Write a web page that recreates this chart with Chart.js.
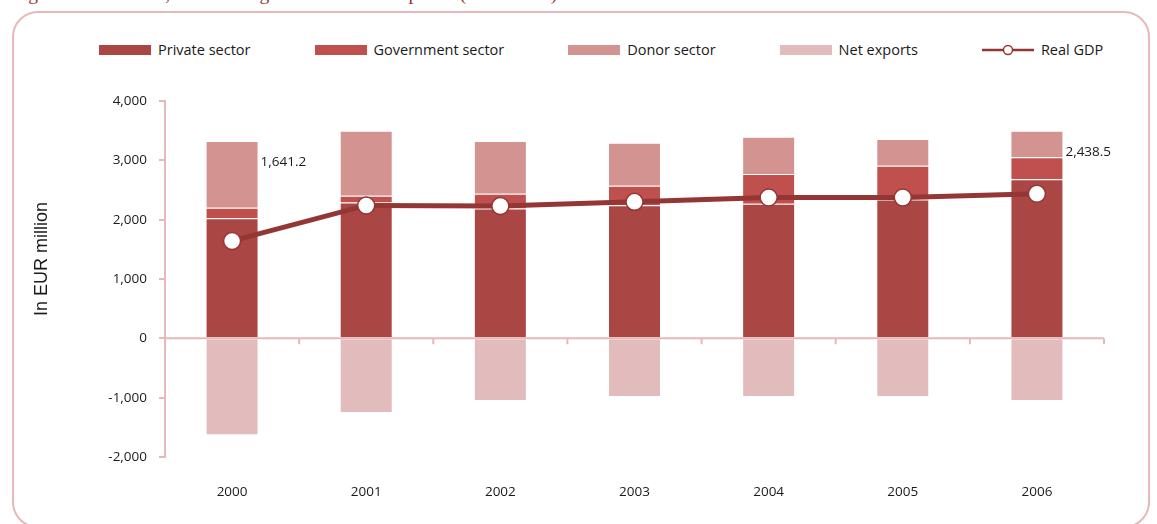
<!DOCTYPE html>
<html>
<head>
<meta charset="utf-8">
<script src="https://cdn.jsdelivr.net/npm/chart.js@4.4.1/dist/chart.umd.min.js"></script>
<style>
  html, body { margin: 0; padding: 0; background: #fff; }
  body { width: 1157px; height: 524px; position: relative; overflow: hidden; }
  .caption {
    position: absolute; left: 27px; top: -17px; width: 720px;
    overflow: hidden; white-space: nowrap; text-indent: -15px;
    font: 19.5px "Liberation Serif", serif; color: #953735;
  }
  .frame {
    position: absolute; left: 12px; top: 11px; width: 1138px; height: 517px;
    border: 2px solid #e6b9b8; border-radius: 26px; box-sizing: border-box;
  }
  #legend {
    position: absolute; left: 99px; top: 40px; display: flex; gap: 64px;
    font: 14.5px "Open Sans", sans-serif; color: #1a1a1a; line-height: 20px;
  }
  #legend .item { display: flex; align-items: center; gap: 7px; white-space: nowrap; }
  #legend .box { display: inline-block; width: 52px; height: 10px; }
  canvas { position: absolute; left: 0; top: 0; }
</style>
</head>
<body>
<div class="caption">Figure 4: Real GDP, sources of growth at constant prices (2000-2006)</div>
<div class="frame"></div>
<div id="legend"></div>
<canvas id="gdpChart" width="1157" height="524"></canvas>
<script>
const years = ['2000', '2001', '2002', '2003', '2004', '2005', '2006'];
const privateSector = [2025, 2290, 2190, 2245, 2270, 2340, 2680];
const governmentSector = [175, 112, 246, 326, 498, 568, 370];
const donorSector = [1125, 1098, 889, 726, 629, 451, 449];
const netExports = [-1632, -1260, -1058, -990, -990, -990, -1058];
const realGdp = [1641.2, 2240, 2230, 2300, 2375, 2372, 2438.5];
const gdpLabelled = [0, 6]; // years that carry a value label
const yTicks = [-2000, -1000, 0, 1000, 2000, 3000, 4000];

const axisPink = '#e6b9b8';
const textColor = '#1a1a1a';
const lineRed = '#943634';

function bar(label, data, color) {
    return {
        type: 'bar', label: label, data: data, backgroundColor: color,
        borderColor: 'rgba(255,255,255,0.55)', borderWidth: 1,
        categoryPercentage: 1, barPercentage: 0.395, stack: 'gdp', order: 2
    };
}

// zero line with category tick marks, the rotated y title, and value labels
const extras = {
    id: 'extras',
    beforeDatasetsDraw(chart) {
        const {ctx, chartArea} = chart;
        const x = chart.scales.x, y = chart.scales.y;
        const y0 = y.getPixelForValue(0);
        ctx.save();
        ctx.strokeStyle = axisPink;
        ctx.lineWidth = 2;
        ctx.beginPath();
        ctx.moveTo(chartArea.left, y0);
        ctx.lineTo(chartArea.right, y0);
        for (let i = 1; i <= years.length; i++) {
            const bx = i === years.length ? chartArea.right
                : (x.getPixelForValue(i - 1) + x.getPixelForValue(i)) / 2;
            ctx.moveTo(bx, y0);
            ctx.lineTo(bx, y0 + 6);
        }
        ctx.stroke();
        ctx.restore();
    },
    afterDraw(chart) {
        const ctx = chart.ctx;
        ctx.save();
        ctx.fillStyle = textColor;
        ctx.font = '18px "Liberation Sans", Arial, sans-serif';
        ctx.textAlign = 'center';
        ctx.textBaseline = 'middle';
        ctx.translate(42, 259);
        ctx.rotate(-Math.PI / 2);
        ctx.fillText('In EUR million', 0, 0);
        ctx.restore();

        const donorBars = chart.getDatasetMeta(2).data;
        ctx.save();
        ctx.fillStyle = textColor;
        ctx.font = '13.5px "Open Sans", sans-serif';
        ctx.textAlign = 'left';
        ctx.textBaseline = 'middle';
        gdpLabelled.forEach(i => {
            const el = donorBars[i];
            const txt = realGdp[i].toLocaleString('en-US', {minimumFractionDigits: 1, maximumFractionDigits: 1});
            ctx.fillText(txt, el.x + el.width / 2 + 2, el.y + 21);
        });
        ctx.restore();
    }
};

const chart = new Chart(document.getElementById('gdpChart'), {
    data: {
        labels: years,
        datasets: [
            bar('Private sector', privateSector, '#aa4643'),
            bar('Government sector', governmentSector, '#c0504d'),
            bar('Donor sector', donorSector, '#d39391'),
            bar('Net exports', netExports, '#e2bcbc'),
            {
                type: 'line', label: 'Real GDP', data: realGdp, stack: 'line', order: 1,
                borderColor: lineRed, borderWidth: 5, tension: 0,
                pointRadius: 8.5, pointBorderWidth: 1.5,
                pointBackgroundColor: '#fff', pointBorderColor: lineRed
            }
        ]
    },
    options: {
        responsive: false,
        devicePixelRatio: 1,
        animation: false,
        layout: { padding: { top: 101, right: 53, bottom: 0, left: 0 } },
        plugins: { legend: { display: false }, tooltip: { enabled: false } },
        scales: {
            x: {
                stacked: true,
                afterFit(scale) { scale.height = 67; },
                grid: { display: false, drawTicks: false },
                border: { display: false },
                ticks: { padding: 27, color: textColor, font: { family: 'Open Sans', size: 13.5 } }
            },
            y: {
                stacked: true, min: -2000, max: 4000,
                afterBuildTicks(scale) { scale.ticks = yTicks.map(v => ({ value: v })); },
                afterFit(scale) { scale.width = 165; },
                ticks: {
                    padding: 12, color: textColor, font: { family: 'Open Sans', size: 13.5 },
                    callback: v => v.toLocaleString('en-US')
                },
                grid: { drawOnChartArea: false, color: axisPink, lineWidth: 2, tickLength: 6 },
                border: { color: axisPink, width: 2 }
            }
        }
    },
    plugins: [extras]
});

// legend row built from the datasets
const legend = document.getElementById('legend');
chart.data.datasets.forEach(ds => {
    const item = document.createElement('span');
    item.className = 'item';
    if (ds.type === 'bar') {
        item.innerHTML = '<span class="box" style="background:' + ds.backgroundColor + '"></span>';
    } else {
        item.innerHTML = '<svg width="52" height="14"><line x1="0" y1="7" x2="52" y2="7" stroke="' + ds.borderColor +
            '" stroke-width="2.5"/><circle cx="26" cy="7" r="4.5" fill="#fff" stroke="' + ds.borderColor + '" stroke-width="1.5"/></svg>';
    }
    item.appendChild(document.createTextNode(ds.label));
    legend.appendChild(item);
});
</script>
</body>
</html>
